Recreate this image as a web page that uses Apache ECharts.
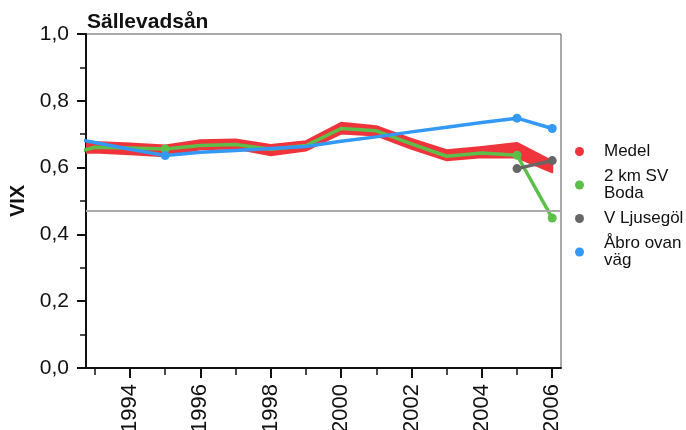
<!DOCTYPE html>
<html>
<head>
<meta charset="utf-8">
<script src="https://cdn.jsdelivr.net/npm/echarts@6/dist/echarts.min.js"></script>
<style>
  html, body { margin: 0; padding: 0; background: #fff; }
  #chart { width: 686px; height: 430px; }
</style>
</head>
<body>
<div id="chart"></div>
<script>
// values
const years = [1992, 1993, 1994, 1995, 1996, 1997, 1998, 1999, 2000, 2001, 2002, 2003, 2004, 2005, 2006];
const medelLow  = [0.644, 0.645, 0.640, 0.634, 0.655, 0.657, 0.637, 0.651, 0.702, 0.696, 0.656, 0.622, 0.631, 0.630, 0.586];
const medelHigh = [0.676, 0.677, 0.672, 0.666, 0.682, 0.684, 0.668, 0.679, 0.734, 0.724, 0.686, 0.652, 0.662, 0.674, 0.619];
const boda   = [0.633, 0.661, 0.659, 0.656, 0.666, 0.669, 0.655, 0.666, 0.717, 0.710, 0.671, 0.634, 0.644, 0.637, 0.449];
const abro   = [0.695, 0.675, 0.655, 0.636, 0.646, 0.651, 0.657, 0.663, 0.679, 0.692, 0.707, 0.721, 0.735, 0.748, 0.717];
const ljuseYears = [2005, 2006];
const ljuse  = [0.597, 0.621];
const refLine = 0.47;

const bodaDots = [1995, 2005, 2006];
const abroDots = [1995, 2005, 2006];
const ljuseDots = [2005, 2006];

const majorYears = [1994, 1996, 1998, 2000, 2002, 2004, 2006];
const minorYears = [1993, 1995, 1997, 1999, 2001, 2003, 2005];

const legendNames = ['Medel', '2 km SV Boda', 'V Ljusegöl', 'Åbro ovan väg'];
const legendText = {
  'Medel': 'Medel',
  '2 km SV Boda': '2 km SV\nBoda',
  'V Ljusegöl': 'V Ljusegöl',
  'Åbro ovan väg': 'Åbro ovan\nväg'
};

const RED = '#ef343c', GREEN = '#5cbf4a', GREY = '#666666', BLUE = '#3498f5';
const FONT = 'Liberation Sans, Arial, sans-serif';

function pairs(xs, ys) {
  return xs.map((x, i) => [x, ys[i]]);
}
function dotSize(list) {
  return (v) => list.includes(v[0]) ? 9 : 0;
}

// band between medelLow and medelHigh, drawn once as one polygon
function renderBand(params, api) {
  if (params.dataIndex !== 0) return null;
  let top = years.map((y, i) => api.coord([y, medelHigh[i]]));
  let bottom = years.map((y, i) => api.coord([y, medelLow[i]])).reverse();
  let cs = params.coordSys;
  return {
    type: 'polygon',
    shape: {points: top.concat(bottom)},
    style: {fill: RED, stroke: RED, lineWidth: 2, lineJoin: 'round'},
    clipPath: {type: 'rect', shape: {x: cs.x, y: cs.y, width: cs.width, height: cs.height}}
  };
}

let chart = echarts.init(document.getElementById('chart'), null, {renderer: 'canvas'});

let option = {
  animation: false,
  textStyle: {fontFamily: FONT},
  title: {
    text: 'Sällevadsån',
    left: 82,
    top: 7,
    textStyle: {fontFamily: FONT, fontSize: 21, fontWeight: 'bold', color: '#111'}
  },
  legend: {
    data: legendNames,
    orient: 'vertical',
    left: 570,
    top: 138,
    icon: 'circle',
    itemWidth: 9,
    itemHeight: 9,
    itemGap: 8,
    formatter: (n) => legendText[n],
    textStyle: {fontFamily: FONT, fontSize: 17, lineHeight: 17, color: '#111', padding: [0, 0, 0, 15]}
  },
  grid: {
    left: 86, right: 125, top: 34, bottom: 62,
    outerBoundsMode: 'none',
    show: true, borderColor: '#555', borderWidth: 1
  },
  xAxis: [
    {
      type: 'value', min: 1992.75, max: 2006.25,
      axisLine: {show: true, lineStyle: {color: '#111', width: 2}},
      axisTick: {show: true, customValues: majorYears, length: 10, inside: false, lineStyle: {color: '#111', width: 2}},
      axisLabel: {
        customValues: majorYears, rotate: 90, margin: 16,
        fontFamily: FONT, fontSize: 22, color: '#111',
        formatter: (v) => String(v)
      },
      splitLine: {show: false}
    },
    {
      type: 'value', min: 1992.75, max: 2006.25, position: 'bottom',
      axisLine: {show: false},
      axisTick: {show: true, customValues: minorYears, length: 7, lineStyle: {color: '#111', width: 1.5}},
      axisLabel: {show: false},
      splitLine: {show: false}
    }
  ],
  yAxis: {
    type: 'value', min: 0, max: 1, interval: 0.2,
    name: 'VIX', nameLocation: 'middle', nameGap: 51, nameRotate: 90,
    nameTextStyle: {fontFamily: FONT, fontSize: 20, fontWeight: 'bold', color: '#111'},
    axisLine: {show: true, lineStyle: {color: '#111', width: 2}},
    axisTick: {show: true, length: 9, lineStyle: {color: '#111', width: 2}},
    minorTick: {show: true, splitNumber: 2, length: 6, lineStyle: {color: '#111', width: 1.5}},
    axisLabel: {
      margin: 17, fontFamily: FONT, fontSize: 21, color: '#111',
      formatter: (v) => v.toFixed(1).replace('.', ',')
    },
    splitLine: {show: false},
    minorSplitLine: {show: false}
  },
  series: [
    {
      name: 'Medel', type: 'custom',
      data: pairs(years, medelHigh),
      renderItem: renderBand,
      itemStyle: {color: RED},
      markLine: {
        silent: true, symbol: 'none', label: {show: false},
        lineStyle: {color: '#aaaaaa', width: 2, type: 'solid'},
        data: [{yAxis: refLine}]
      },
      z: 2
    },
    {
      name: '2 km SV Boda', type: 'line',
      data: pairs(years, boda),
      symbol: 'circle', symbolSize: dotSize(bodaDots), showSymbol: true, clip: true,
      itemStyle: {color: GREEN},
      lineStyle: {color: GREEN, width: 3.5},
      z: 4
    },
    {
      name: 'V Ljusegöl', type: 'line',
      data: pairs(ljuseYears, ljuse),
      symbol: 'circle', symbolSize: dotSize(ljuseDots), showSymbol: true, clip: true,
      itemStyle: {color: GREY},
      lineStyle: {color: GREY, width: 3.5},
      z: 5
    },
    {
      name: 'Åbro ovan väg', type: 'line',
      data: pairs(years, abro),
      symbol: 'circle', symbolSize: dotSize(abroDots), showSymbol: true, clip: true,
      itemStyle: {color: BLUE},
      lineStyle: {color: BLUE, width: 3.5},
      z: 6
    }
  ]
};

chart.setOption(option);
</script>
</body>
</html>
